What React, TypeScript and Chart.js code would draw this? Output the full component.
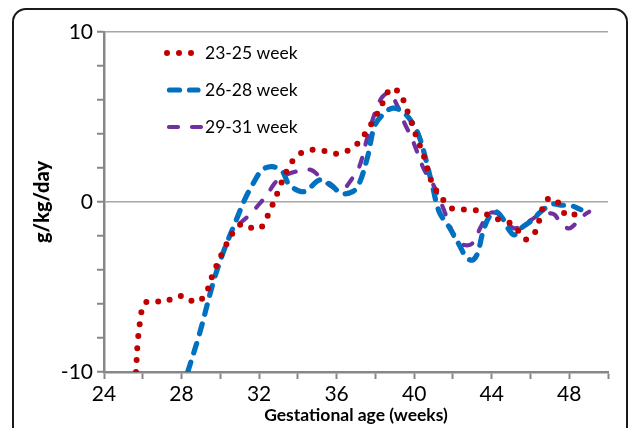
import React, { useEffect, useRef } from "react";
import { Chart, registerables } from "chart.js";

Chart.register(...registerables);

const seriesLabels = ["23-25 week", "26-28 week", "29-31 week"];

const weeks23X = [25.65, 25.75, 25.9, 26.05, 26.5, 27.1, 27.65, 28.2, 28.7, 29.2, 29.6, 30.1, 30.65, 31.1, 31.55, 32.05, 32.45, 32.9, 33.5, 34.0, 34.6, 35.2, 35.8, 36.3, 36.9, 37.4, 38.0, 38.5, 38.8, 39.25, 39.7, 40.1, 40.5, 40.9, 41.3, 41.6, 42.0, 42.6, 43.25, 43.8, 44.4, 44.9, 45.3, 45.75, 46.2, 46.45, 46.8, 47.3, 47.6, 48.0, 48.6];
const weeks23Y = [-10, -8.1, -6.75, -6.0, -5.8, -5.9, -5.6, -5.55, -5.9, -5.5, -4.3, -3.0, -1.8, -1.3, -1.5, -1.55, -0.8, 0.4, 2.0, 2.75, 3.05, 3.05, 2.85, 2.9, 3.25, 3.9, 5.0, 6.1, 6.7, 6.4, 5.2, 3.9, 2.7, 1.2, 0.4, 0.0, -0.4, -0.45, -0.5, -0.75, -1.05, -1.2, -1.6, -2.2, -1.85, -1.1, 0.1, 0.15, -0.45, -0.85, -0.5];

const weeks26X = [28.32, 28.93, 29.62, 30.13, 30.82, 31.25, 31.65, 32.17, 32.69, 33.2, 33.57, 34.34, 35.12, 35.72, 36.23, 36.83, 37.17, 37.6, 37.95, 38.37, 38.89, 39.4, 39.92, 40.26, 40.61, 40.95, 41.3, 41.8, 42.33, 42.67, 43.0, 43.27, 43.53, 43.87, 44.22, 44.56, 44.9, 45.16, 45.5, 46.1, 46.53, 47.13, 47.56, 48.16, 48.6];
const weeks26Y = [-10, -7.74, -4.79, -3.02, -1.06, 0.12, 1.0, 1.89, 2.08, 1.79, 1.0, 0.61, 1.3, 1.0, 0.51, 0.61, 1.1, 2.67, 4.44, 5.13, 5.52, 5.32, 4.64, 3.85, 2.47, 0.9, -0.6, -1.46, -2.53, -3.22, -3.42, -3.02, -1.84, -0.87, -0.57, -0.96, -1.65, -1.94, -1.55, -1.06, -0.57, -0.12, -0.18, -0.24, -0.45];

const weeks29X = [31.0, 31.5, 31.96, 32.4, 32.8, 33.2, 33.6, 33.9, 34.68, 35.28, 35.89, 36.3, 36.75, 37.17, 37.6, 38.03, 38.37, 38.73, 39.15, 39.5, 39.84, 40.18, 40.52, 40.95, 41.47, 41.8, 42.16, 42.58, 43.01, 43.44, 43.87, 44.3, 44.73, 45.16, 45.59, 46.02, 46.6, 47.05, 47.25, 47.65, 47.99, 48.25, 48.77, 49.03];
const weeks29Y = [-1.26, -0.77, -0.18, 0.4, 1.1, 1.49, 1.69, 1.79, 1.89, 1.3, 0.81, 0.71, 1.3, 2.08, 3.85, 5.42, 6.2, 6.4, 5.62, 4.64, 3.85, 2.87, 1.89, 1.1, -0.28, -1.26, -2.24, -2.53, -2.43, -1.46, -0.67, -0.67, -1.16, -1.55, -1.36, -1.06, -0.67, -0.67, -0.75, -1.36, -1.55, -1.36, -0.77, -0.57];

const xTickLabels = [24, 28, 32, 36, 40, 44, 48];
const yTickLabels = [-10, 0, 10];

const colors = ["#C00000", "#0070C0", "#7030A0"];
const widths = [6, 5.2, 4.2];
const dashes = [[0, 12], [10, 10], [9, 14]];

const toPoints = (xs: number[], ys: number[]) => xs.map((x, i) => ({ x, y: ys[i] }));

const legendPlugin = {
  id: "inlineLegend",
  afterDraw(chart: any) {
    const ctx = chart.ctx;
    const { left, top } = chart.chartArea;
    const rows = [top + 21, top + 58, top + 95];
    const samples = [
      [left + 63, left + 88],
      [left + 65.5, left + 94],
      [left + 65, left + 97],
    ];
    ctx.save();
    for (let i = 0; i < 3; i++) {
      ctx.beginPath();
      ctx.strokeStyle = colors[i];
      ctx.lineWidth = widths[i];
      ctx.lineCap = "round";
      ctx.setLineDash(dashes[i]);
      ctx.moveTo(samples[i][0], rows[i]);
      ctx.lineTo(samples[i][1], rows[i]);
      ctx.stroke();
    }
    ctx.setLineDash([]);
    ctx.fillStyle = "#000";
    ctx.font = "17.5px Lato";
    ctx.textBaseline = "middle";
    ctx.textAlign = "left";
    for (let i = 0; i < 3; i++) {
      ctx.fillText(seriesLabels[i], left + 101, rows[i]);
    }
    ctx.restore();
  },
};

export default function App() {
  const canvasRef = useRef<HTMLCanvasElement>(null);

  useEffect(() => {
    const canvas = canvasRef.current;
    if (!canvas) return;
    const axisGray = "#878787";
    const chart = new Chart(canvas, {
      type: "line",
      data: {
        datasets: [
          { label: seriesLabels[0], data: toPoints(weeks23X, weeks23Y) },
          { label: seriesLabels[1], data: toPoints(weeks26X, weeks26Y) },
          { label: seriesLabels[2], data: toPoints(weeks29X, weeks29Y) },
        ].map((d, i) => ({
          ...d,
          borderColor: colors[i],
          backgroundColor: colors[i],
          borderWidth: widths[i],
          borderDash: dashes[i],
          borderCapStyle: "round" as const,
          borderJoinStyle: "round" as const,
          pointRadius: 0,
          tension: 0.35,
          fill: false,
        })),
      },
      options: {
        responsive: false,
        animation: false,
        layout: { padding: { top: 32, right: 26, bottom: 2, left: 0 } },
        plugins: { legend: { display: false }, tooltip: { enabled: false } },
        scales: {
          x: {
            type: "linear",
            min: 24,
            max: 50,
            afterFit: (s: any) => { s.height = 54; },
            border: { color: axisGray, width: 2.5 },
            grid: { drawOnChartArea: false, tickColor: axisGray, tickLength: 7, tickWidth: 2 },
            ticks: {
              stepSize: 2,
              autoSkip: false,
              maxRotation: 0,
              padding: 3,
              color: "#000",
              font: { family: "Lato", size: 21 },
              callback: (v: any) => (xTickLabels.includes(Number(v)) ? String(v) : ""),
            },
            title: {
              display: true,
              text: "Gestational age (weeks)",
              color: "#000",
              font: { family: "Lato", size: 17.5, weight: "bold" },
              padding: { top: 0, bottom: 0 },
            },
          },
          y: {
            type: "linear",
            min: -10,
            max: 10,
            afterFit: (s: any) => { s.width = 104; },
            border: { color: axisGray, width: 2.5 },
            grid: {
              color: (c: any) => (c.tick && (c.tick.value === 0 || c.tick.value === 10) ? "#a6a6a6" : "rgba(0,0,0,0)"),
              lineWidth: 1.5,
              tickColor: axisGray,
              tickLength: 7,
              tickWidth: 2,
            },
            ticks: {
              stepSize: 2,
              autoSkip: false,
              padding: 4,
              color: "#000",
              font: { family: "Lato", size: 21 },
              callback: (v: any) => (yTickLabels.includes(Number(v)) ? String(v) : ""),
            },
            title: {
              display: true,
              text: "g/kg/day",
              color: "#000",
              font: { family: "Lato", size: 20, weight: "900" },
              padding: { top: 31, bottom: 0 },
            },
          },
        },
      },
      plugins: [legendPlugin],
    });
    return () => chart.destroy();
  }, []);

  return (
    <div style={{ position: "fixed", left: 0, top: 0, width: 634, height: 428, overflow: "hidden", background: "#fff" }}>
      <div
        style={{
          position: "absolute",
          left: 12,
          top: 8,
          width: 616,
          height: 460,
          border: "2px solid #1a1a1a",
          borderRadius: 14,
          boxSizing: "border-box",
        }}
      />
      <canvas ref={canvasRef} width={634} height={428} style={{ position: "absolute", left: 0, top: 0 }} />
    </div>
  );
}
